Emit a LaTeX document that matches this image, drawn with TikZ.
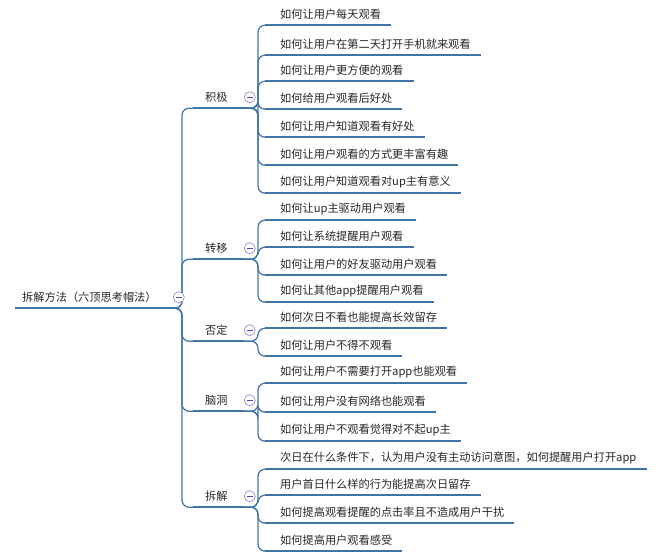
\documentclass[tikz,border=0pt]{standalone}
\usepackage{fontspec}
\setmainfont{Noto Sans CJK SC}
\usetikzlibrary{calc}
\begin{document}
\begin{tikzpicture}[x=1pt,y=-1pt,
  lc/.style={draw=blue!50!cyan!55!black!75, line width=1.2pt},
  uline/.style={lc, line width=1.7pt},
  tn/.style={anchor=west, inner xsep=0pt, inner ysep=0pt, minimum height=22pt, font=\fontsize{11.2}{13}\selectfont, text=black!85,
    append after command={(\tikzlastnode.south west) edge[uline] (\tikzlastnode.south east)}},
  conn/.style={lc, rounded corners=7pt},
  fold/.style={circle, draw=blue!40!gray!70, line width=0.6pt, fill=white, minimum size=11pt, inner sep=0pt},
  mns/.style={draw=blue!40!gray, line width=0.6pt}
]
\useasboundingbox (0,0) rectangle (664,558);
\node[tn] (r) at (15,297) {\hspace*{7pt}拆解方法（六顶思考帽法）\hspace*{16pt}};
\foreach \n/\t/\y in {a/积极/97, b/转移/248, c/否定/330, d/脑洞/400, e/拆解/496}
  \node[tn] (\n) at (193,\y) {\hspace*{12pt}\t\hspace*{16pt}};
\foreach \n/\t/\y in {
 a1/如何让用户每天观看/14, a2/如何让用户在第二天打开手机就来观看/44, a3/如何让用户更方便的观看/70,
 a4/如何给用户观看后好处/98, a5/如何让用户知道观看有好处/126, a6/如何让用户观看的方式更丰富有趣/154,
 a7/如何让用户知道观看对up主有意义/182,
 b1/如何让up主驱动用户观看/209, b2/如何让系统提醒用户观看/236, b3/如何让用户的好友驱动用户观看/264, b4/如何让其他app提醒用户观看/291,
 c1/如何次日不看也能提高长效留存/317, c2/如何让用户不得不观看/345,
 d1/如何让用户不需要打开app也能观看/372, d2/如何让用户没有网络也能观看/401, d3/如何让用户不观看觉得对不起up主/430,
 e1/{次日在什么条件下，认为用户没有主动访问意图，如何提醒用户打开app}/458, e2/用户首日什么样的行为能提高次日留存/484,
 e3/如何提高观看提醒的点击率且不造成用户干扰/512, e4/如何提高用户观看感受/540}
  \node[tn] (\n) at (265,\y) {\hspace*{15pt}\t\hspace*{10pt}};
\foreach \c in {a,b,c,d,e} \draw[conn] (r.south east) -| ([xshift=-11pt]\c.south west) -- (\c.south west);
\foreach \p/\cs in {a/{a1,a2,a3,a4,a5,a6,a7}, b/{b1,b2,b3,b4}, c/{c1,c2}, d/{d1,d2,d3}, e/{e1,e2,e3,e4}}
  \foreach \c in \cs \draw[conn] (\p.south east) -| ([xshift=-7pt]\c.south west) -- (\c.south west);
\foreach \n in {r,a,b,c,d,e} {
  \node[fold] (f\n) at ($(\n.south east)+(6,-11)$) {};
  \draw[mns] ([xshift=-3pt]f\n.center) -- ([xshift=3pt]f\n.center);
}
\end{tikzpicture}
\end{document}
